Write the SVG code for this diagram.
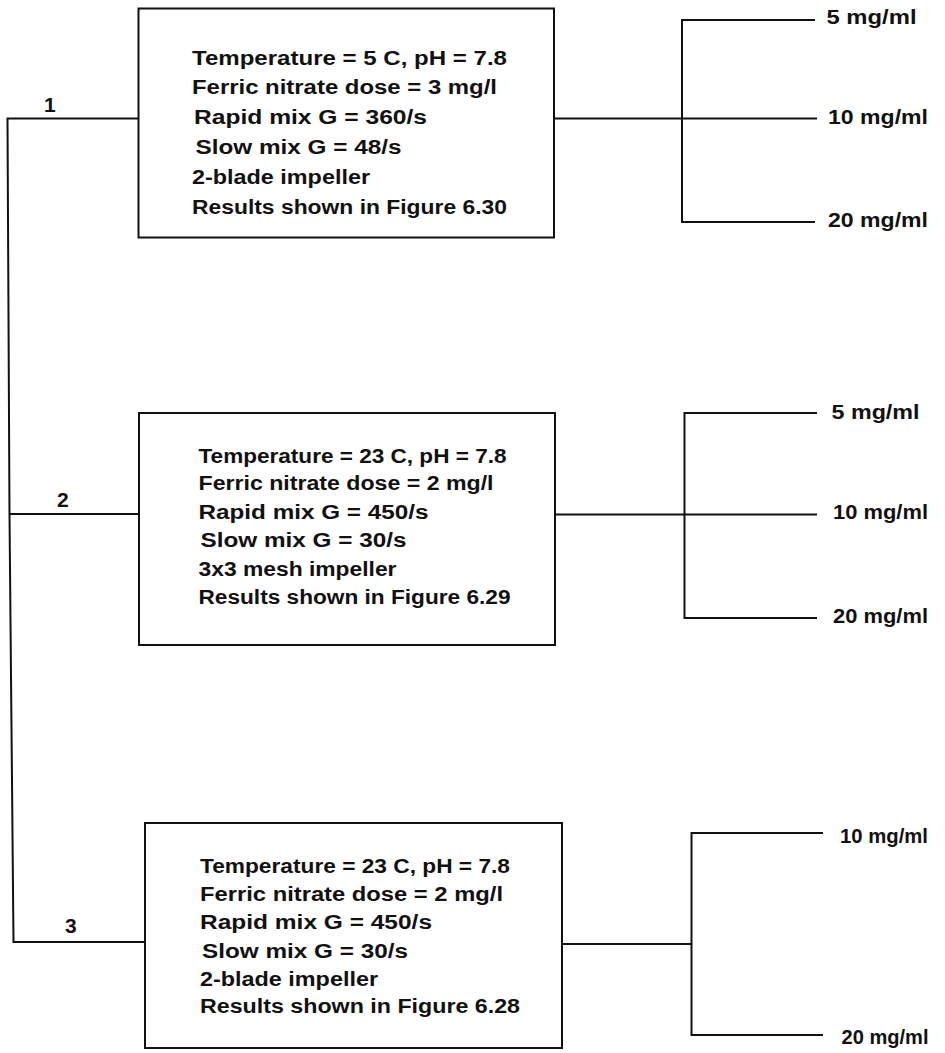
<svg xmlns="http://www.w3.org/2000/svg" width="945" height="1053" viewBox="0 0 945 1053">
  <style>
    .box { fill: #ffffff; stroke: #111111; stroke-width: 2; }
    .wire { fill: none; stroke: #111111; stroke-width: 2; stroke-linejoin: miter; }
    .t { font-family: "Liberation Sans", Arial, sans-serif; font-weight: bold; font-size: 20px; fill: #111111; }
    .lbl { font-family: "Liberation Sans", Arial, sans-serif; font-weight: bold; font-size: 21px; fill: #111111; }
  </style>
  <rect width="945" height="1053" fill="#ffffff"/>

  <!-- connectors: main trunk, run stubs and dose branches -->
  <g id="connectors">
    <polyline class="wire" points="138,118.5 7.5,118.5 9.5,514 13.5,942 145,942"/>
    <line class="wire" x1="9.5" y1="514" x2="139" y2="514"/>

    <!-- run 1 dose branches -->
    <line class="wire" x1="554" y1="118.5" x2="817" y2="118.5"/>
    <polyline class="wire" points="815,20 682,20 682,222 815,222"/>

    <!-- run 2 dose branches -->
    <line class="wire" x1="555" y1="514.5" x2="817" y2="514.5"/>
    <polyline class="wire" points="817,413 684.5,413 684.5,618 817,618"/>

    <!-- run 3 dose branches -->
    <line class="wire" x1="562" y1="944" x2="691.5" y2="944"/>
    <polyline class="wire" points="823,833 691.5,833 691.5,1035 823,1035"/>
  </g>

  <!-- run numbers -->
  <g id="run-labels">
    <text class="lbl" x="44" y="112">1</text>
    <text class="lbl" x="57" y="506.5">2</text>
    <text class="lbl" x="65" y="933">3</text>
  </g>

  <g id="run1">
    <rect class="box" x="138.5" y="8.5" width="415.5" height="229"/>
    <text class="t" x="192" y="65" textLength="315" lengthAdjust="spacingAndGlyphs">Temperature = 5 C, pH = 7.8</text>
    <text class="t" x="192" y="93.5" textLength="305" lengthAdjust="spacingAndGlyphs">Ferric nitrate dose = 3 mg/l</text>
    <text class="t" x="194" y="123.5" textLength="233" lengthAdjust="spacingAndGlyphs">Rapid mix G = 360/s</text>
    <text class="t" x="195.5" y="153.5" textLength="206" lengthAdjust="spacingAndGlyphs">Slow mix G = 48/s</text>
    <text class="t" x="192" y="183.5" textLength="178" lengthAdjust="spacingAndGlyphs">2-blade impeller</text>
    <text class="t" x="192" y="213.5" textLength="315" lengthAdjust="spacingAndGlyphs">Results shown in Figure 6.30</text>
  </g>

  <g id="run2">
    <rect class="box" x="139" y="413" width="416" height="232"/>
    <text class="t" x="198.5" y="462.5" textLength="308" lengthAdjust="spacingAndGlyphs">Temperature = 23 C, pH = 7.8</text>
    <text class="t" x="198.5" y="490" textLength="295" lengthAdjust="spacingAndGlyphs">Ferric nitrate dose = 2 mg/l</text>
    <text class="t" x="198.5" y="518.5" textLength="230" lengthAdjust="spacingAndGlyphs">Rapid mix G = 450/s</text>
    <text class="t" x="200.5" y="546.5" textLength="206" lengthAdjust="spacingAndGlyphs">Slow mix G = 30/s</text>
    <text class="t" x="198.5" y="575.5" textLength="198" lengthAdjust="spacingAndGlyphs">3x3 mesh impeller</text>
    <text class="t" x="198.5" y="604" textLength="312" lengthAdjust="spacingAndGlyphs">Results shown in Figure 6.29</text>
  </g>

  <g id="run3">
    <rect class="box" x="145" y="823" width="417" height="225"/>
    <text class="t" x="200" y="872.5" textLength="310" lengthAdjust="spacingAndGlyphs">Temperature = 23 C, pH = 7.8</text>
    <text class="t" x="200" y="900.5" textLength="303" lengthAdjust="spacingAndGlyphs">Ferric nitrate dose = 2 mg/l</text>
    <text class="t" x="200" y="929" textLength="232" lengthAdjust="spacingAndGlyphs">Rapid mix G = 450/s</text>
    <text class="t" x="202" y="957.5" textLength="206" lengthAdjust="spacingAndGlyphs">Slow mix G = 30/s</text>
    <text class="t" x="200" y="985.5" textLength="178" lengthAdjust="spacingAndGlyphs">2-blade impeller</text>
    <text class="t" x="200" y="1013" textLength="320" lengthAdjust="spacingAndGlyphs">Results shown in Figure 6.28</text>
  </g>

  <!-- dose labels -->
  <g id="doses1">
    <text class="t" x="826.5" y="24" textLength="90" lengthAdjust="spacingAndGlyphs">5 mg/ml</text>
    <text class="t" x="828" y="124" textLength="100" lengthAdjust="spacingAndGlyphs">10 mg/ml</text>
    <text class="t" x="828" y="227" textLength="100" lengthAdjust="spacingAndGlyphs">20 mg/ml</text>
  </g>
  <g id="doses2">
    <text class="t" x="831.5" y="418.5" textLength="88" lengthAdjust="spacingAndGlyphs">5 mg/ml</text>
    <text class="t" x="833" y="519" textLength="95" lengthAdjust="spacingAndGlyphs">10 mg/ml</text>
    <text class="t" x="833" y="623" textLength="95" lengthAdjust="spacingAndGlyphs">20 mg/ml</text>
  </g>
  <g id="doses3">
    <text class="t" x="840" y="843" textLength="88" lengthAdjust="spacingAndGlyphs">10 mg/ml</text>
    <text class="t" x="841.5" y="1044" textLength="87" lengthAdjust="spacingAndGlyphs">20 mg/ml</text>
  </g>
</svg>
